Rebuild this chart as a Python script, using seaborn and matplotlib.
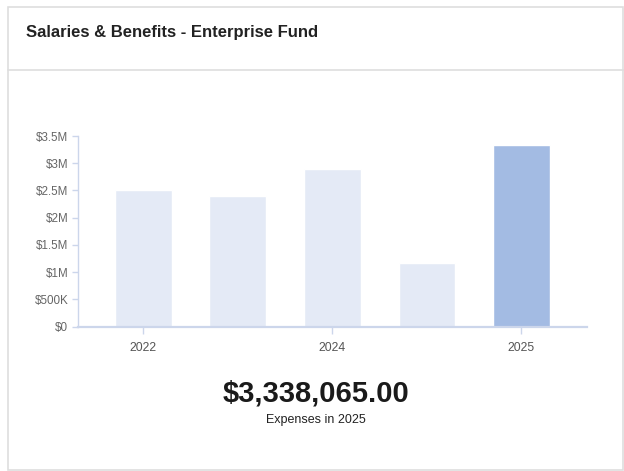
import matplotlib
matplotlib.use("Agg")
import matplotlib.pyplot as plt
from matplotlib.patches import Rectangle
from matplotlib.lines import Line2D
from matplotlib.ticker import FuncFormatter
import seaborn as sns
import pandas as pd

# Data
bar_index = [0, 1, 2, 3, 4]
expenses = [2510000, 2400000, 2890000, 1170000, 3338065.00]
highlight = [False, False, False, False, True]
tick_positions = [0, 2, 4]
tick_labels = ["2022", "2024", "2025"]
y_ticks = [0, 500000, 1000000, 1500000, 2000000, 2500000, 3000000, 3500000]

title = "Salaries & Benefits - Enterprise Fund"
headline_value = expenses[-1]
headline_caption = "Expenses in 2025"

sns.set_theme(style="white")
plt.rcParams["font.family"] = ["Liberation Sans", "DejaVu Sans"]

W, H = 624, 471
fig = plt.figure(figsize=(W / 100, H / 100), dpi=100)
fig.patch.set_facecolor("white")

def fx(px):
    return px / W

def fy(py):
    return 1 - py / H

# Card frame and header divider
border = "#dedede"
fig.add_artist(Rectangle((fx(8), fy(470)), fx(623.3) - fx(8), fy(6.5) - fy(470),
                         transform=fig.transFigure, fill=False,
                         edgecolor=border, linewidth=1.2))
fig.add_artist(Line2D([fx(8), fx(624)], [fy(69.5), fy(69.5)],
                      transform=fig.transFigure, color=border, linewidth=1.2))

fig.text(fx(26), fy(33), title, fontsize=12, fontweight="bold",
         color="#222222", ha="left", va="center")

# Bar chart
left, right, bottom, top = 78, 586.7, 326.7, 136.0
ax = fig.add_axes([fx(left), fy(bottom), fx(right) - fx(left), fy(top) - fy(bottom)])

df = pd.DataFrame({"idx": bar_index, "value": expenses,
                   "group": ["current" if h else "past" for h in highlight]})
palette = {"past": "#e4eaf6", "current": "#a3bbe3"}
sns.barplot(data=df, x="idx", y="value", hue="group", palette=palette,
            order=bar_index, hue_order=["past", "current"], dodge=False,
            width=0.6, saturation=1, legend=False, ax=ax)

ax.set_xlim(-0.69, 4.69)
ax.set_ylim(0, 3500000)
ax.set_yticks(y_ticks)
ax.yaxis.set_major_formatter(FuncFormatter(
    lambda v, _: "$0" if v == 0 else (f"${v/1e6:g}M" if v >= 1e6 else f"${v/1e3:g}K")))
ax.set_xticks(tick_positions)
ax.set_xticklabels(tick_labels)
ax.set_xlabel("")
ax.set_ylabel("")

axis_color = "#ccd6eb"
for side in ["top", "right"]:
    ax.spines[side].set_visible(False)
ax.spines["left"].set_color(axis_color)
ax.spines["left"].set_linewidth(1.0)
ax.spines["bottom"].set_color(axis_color)
ax.spines["bottom"].set_linewidth(1.6)
ax.tick_params(axis="y", length=4, width=1, color=axis_color, pad=3,
               labelsize=8.4, labelcolor="#666666", left=True)
ax.tick_params(axis="x", length=5, width=1, color=axis_color, pad=6,
               labelsize=8.8, labelcolor="#555555", bottom=True)
ax.set_facecolor("white")
ax.grid(False)

# Headline figure
fig.text(fx(316), fy(393), f"${headline_value:,.2f}", fontsize=21,
         fontweight="bold", color="#1a1a1a", ha="center", va="center")
fig.text(fx(316), fy(420), headline_caption, fontsize=9,
         color="#222222", ha="center", va="center")

fig.savefig("out.png", dpi=100, facecolor="white")
